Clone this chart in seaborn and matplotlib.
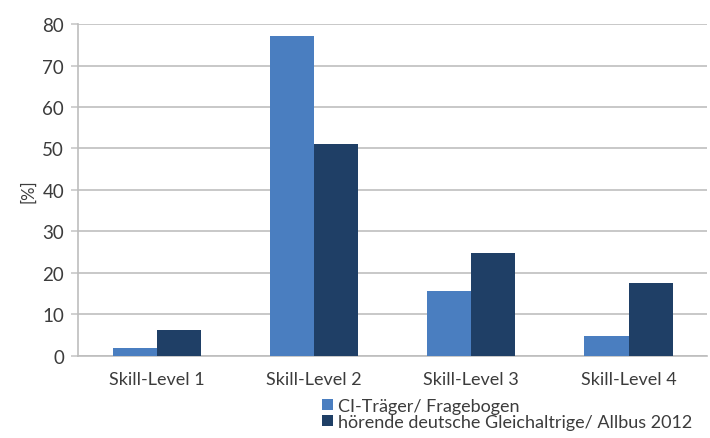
import matplotlib
matplotlib.use("Agg")
import matplotlib.pyplot as plt
import seaborn as sns
import pandas as pd

# Skill levels and the share of each group per level (percent)
categories = ["Skill-Level 1", "Skill-Level 2", "Skill-Level 3", "Skill-Level 4"]
ci_traeger = [2, 77, 15.7, 4.7]
hoerende = [6.3, 51, 24.8, 17.5]
series_names = ["CI-Träger/ Fragebogen", "hörende deutsche Gleichaltrige/ Allbus 2012"]
y_ticks = [0, 10, 20, 30, 40, 50, 60, 70, 80]

df = pd.DataFrame({
    "level": categories * 2,
    "value": ci_traeger + hoerende,
    "group": [series_names[0]] * len(categories) + [series_names[1]] * len(categories),
})

sns.set_theme(style="white")
plt.rcParams["font.family"] = ["Lato", "DejaVu Sans"]

fig = plt.figure(figsize=(7.10, 4.39), dpi=100)
ax = fig.add_axes([0.110, 0.187, 0.886, 0.756])

palette = {series_names[0]: "#4A7EC0", series_names[1]: "#1F3F66"}
sns.barplot(data=df, x="level", y="value", hue="group", palette=palette,
            width=0.56, gap=0, saturation=1, linewidth=0, ax=ax,
            legend=True, zorder=3)

ax.set_ylim(0, 80)
ax.set_xlim(-0.5, 3.5)
ax.set_yticks(y_ticks)
ax.yaxis.grid(True, color="#C8C8C8", linewidth=1.4, zorder=0)
ax.set_axisbelow(True)

for side in ["top", "right"]:
    ax.spines[side].set_visible(False)
for side in ["left", "bottom"]:
    ax.spines[side].set_color("#BDBDBD")
    ax.spines[side].set_linewidth(1.2)

text_color = "#3C3C3C"
ax.tick_params(axis="y", left=True, length=5, width=1.2, color="#C8C8C8",
               labelsize=13.5, labelcolor=text_color, pad=5)
ax.tick_params(axis="x", bottom=False, labelsize=13, labelcolor=text_color, pad=5)
ax.set_xlabel("")
ax.set_ylabel("[%]", fontsize=12, color=text_color, labelpad=4)

handles, labels = ax.get_legend_handles_labels()
ax.legend(handles, labels, loc="upper left", bbox_to_anchor=(0.441, 0.112),
          bbox_transform=fig.transFigure, frameon=False, fontsize=13,
          handlelength=0.6, handleheight=0.6, handletextpad=0.3,
          labelspacing=0.0, borderpad=0, labelcolor=text_color)

fig.savefig("out.png", dpi=100, facecolor="white")
